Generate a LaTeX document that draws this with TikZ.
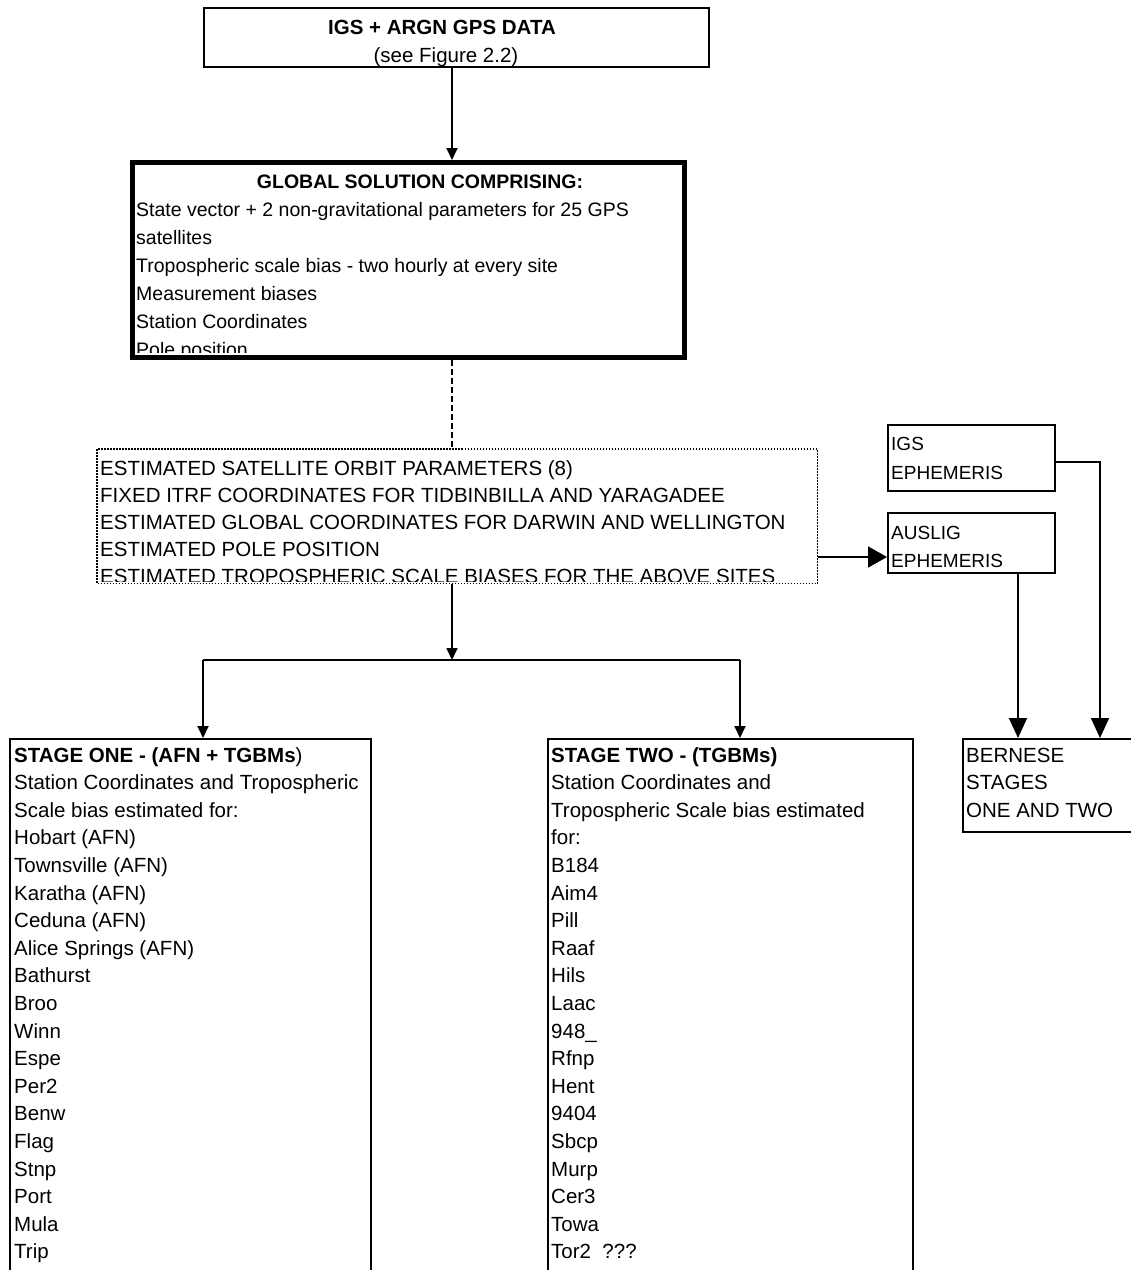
\documentclass[tikz,border=0pt]{standalone}
\usepackage{fontspec}
\setmainfont{Liberation Sans}
\usetikzlibrary{arrows.meta}
\begin{document}
\begin{tikzpicture}[x=1pt,y=-1pt,
  box/.style={draw,line width=1.5pt,inner sep=0,anchor=north west},
  txt/.style={anchor=base west,inner sep=0,font=\fontsize{20.5}{24}\selectfont},
  gtxt/.style={anchor=base west,inner sep=0,font=\fontsize{19.5}{24}\selectfont},
  etxt/.style={anchor=base west,inner sep=0,font=\fontsize{19}{24}\selectfont},
  ctxt/.style={anchor=base,inner sep=0,font=\fontsize{20.5}{24}\selectfont},
  conn/.style={line width=1.8pt},
  arr/.style={conn,-{Triangle[length=12pt,width=11pt]}},
  bigarr/.style={conn,-{Triangle[length=20pt,width=18pt]}},
  sidearr/.style={conn,-{Triangle[length=19pt,width=21pt]}},
]
\useasboundingbox (0,0) rectangle (1131,1270);
\clip (0,0) rectangle (1131,1270);

% boxes
\node[box,minimum width=505pt,minimum height=59pt] (top) at (203,7) {};
\node[box,line width=4.5pt,minimum width=552pt,minimum height=195pt] (glob) at (130,160) {};
\node[box,draw=none,minimum width=719pt,minimum height=133pt] (est) at (97,449) {};
\draw[line width=1.5pt,dash pattern=on 1.5pt off 1.5pt] (est.north west) rectangle (est.south east);
\node[box,minimum width=167pt,minimum height=66pt] (igs) at (887,424) {};
\node[box,minimum width=167pt,minimum height=60pt] (aus) at (887,512) {};
\node[box,minimum width=361pt,minimum height=600pt] (st1) at (9,738) {};
\node[box,minimum width=365pt,minimum height=600pt] (st2) at (547,738) {};
\node[box,minimum width=200pt,minimum height=93pt] (bern) at (962,738) {};

% texts
\node[ctxt] (t1) at (442,34) {\textbf{IGS + ARGN GPS DATA}};
\node[ctxt] (t2) at (446,62) {(see Figure 2.2)};

\begin{scope}
\clip (133,162) rectangle (680,352);
\node[ctxt,font=\fontsize{19.5}{24}\selectfont] (gt) at (420,188) {\textbf{GLOBAL SOLUTION COMPRISING:}};
\foreach \t [count=\i from 0] in {State vector + 2 non-gravitational parameters for 25 GPS,satellites,Tropospheric scale bias - two hourly at every site,Measurement biases,Station Coordinates,Pole position}
  \node[gtxt] (g\i) at (136,{216+\i*28}) {\t};
\end{scope}

\begin{scope}
\clip (98,450) rectangle (815,581);
\foreach \t [count=\i from 0] in {ESTIMATED SATELLITE ORBIT PARAMETERS (8),FIXED ITRF COORDINATES FOR TIDBINBILLA AND YARAGADEE,ESTIMATED GLOBAL COORDINATES FOR DARWIN AND WELLINGTON,ESTIMATED POLE POSITION,ESTIMATED TROPOSPHERIC SCALE BIASES FOR THE ABOVE SITES}
  \node[txt] (e\i) at (100,{475+\i*27.2}) {\t};
\end{scope}

\node[etxt] (i1) at (891,450) {IGS};
\node[etxt] (i2) at (891,479) {EPHEMERIS};
\node[etxt] (a1) at (891,539) {AUSLIG};
\node[etxt] (a2) at (891,567) {EPHEMERIS};

\foreach \t [count=\i from 0] in {{\textbf{STAGE ONE - (AFN + TGBMs})},Station Coordinates and Tropospheric,Scale bias estimated for:,Hobart (AFN),Townsville (AFN),Karatha (AFN),Ceduna (AFN),Alice Springs (AFN),Bathurst,Broo,Winn,Espe,Per2,Benw,Flag,Stnp,Port,Mula,Trip}
  \node[txt] (s\i) at (14,{762+\i*27.6}) {\t};

\foreach \t [count=\i from 0] in {{\textbf{STAGE TWO - (TGBMs)}},Station Coordinates and,Tropospheric Scale bias estimated,for:,B184,Aim4,Pill,Raaf,Hils,Laac,948\_,Rfnp,Hent,9404,Sbcp,Murp,Cer3,Towa,Tor2 \ ???}
  \node[txt] (u\i) at (551,{762+\i*27.6}) {\t};

\foreach \t [count=\i from 0] in {BERNESE,STAGES,ONE AND TWO}
  \node[txt] (b\i) at (966,{762+\i*27.6}) {\t};

% connectors
\coordinate (ax) at (452,0);
\coordinate (split) at (452,660);
\coordinate (s1x) at (203,0);
\coordinate (s2x) at (740,0);
\coordinate (side) at (0,557);
\coordinate (igsy) at (0,462);
\coordinate (bx1) at (1018,0);
\coordinate (bx2) at (1100,0);

\draw[arr] (ax |- top.south) -- (ax |- glob.north);
\draw[conn,line width=1.5pt,dash pattern=on 6pt off 3pt] (ax |- glob.south) -- (ax |- est.north);
\draw[arr] (ax |- est.south) -- (split);
\draw[conn] (s1x |- split) -- (s2x |- split);
\draw[arr] (s1x |- split) -- (s1x |- st1.north);
\draw[arr] (s2x |- split) -- (s2x |- st2.north);
\draw[sidearr] (est.east |- side) -- (aus.west |- side);
\draw[bigarr] (igs.east |- igsy) -| (bx2 |- bern.north);
\draw[bigarr] (bx1 |- aus.south) -- (bx1 |- bern.north);
\end{tikzpicture}
\end{document}
